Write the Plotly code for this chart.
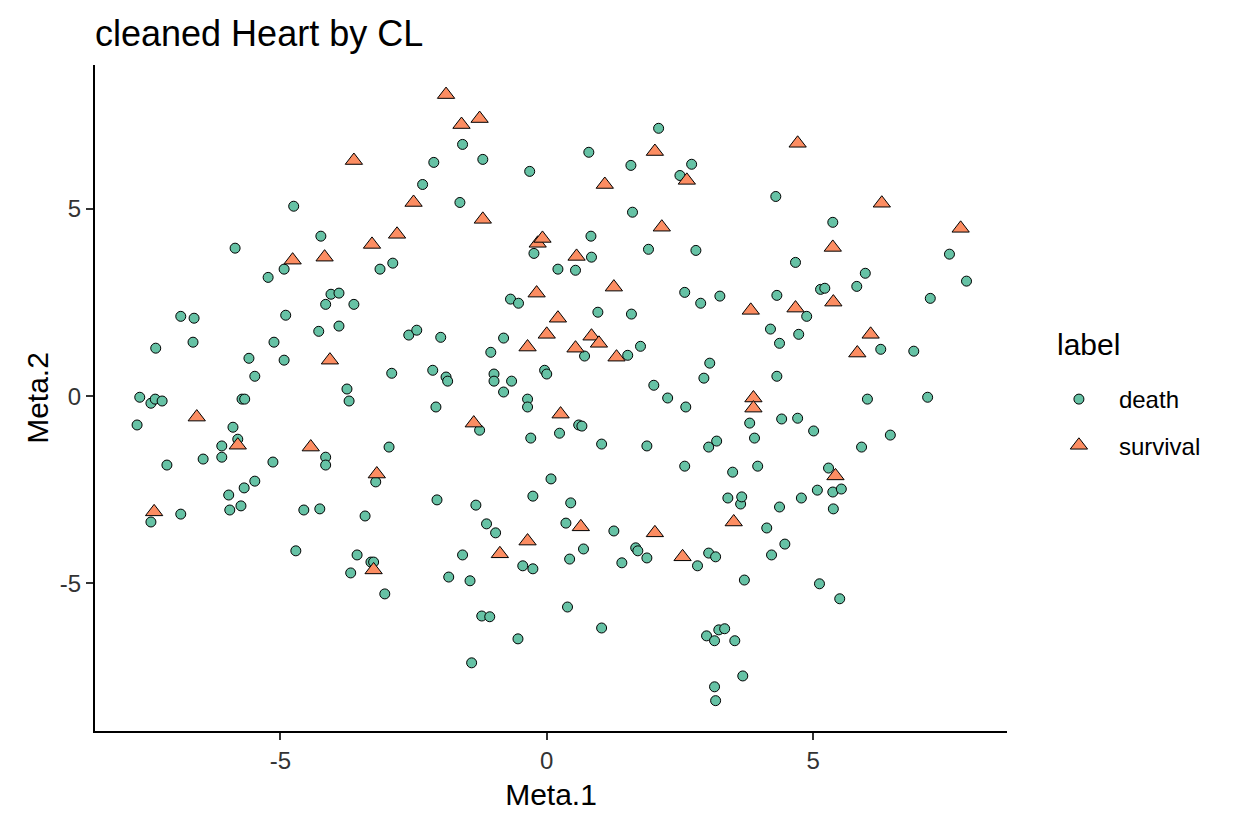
import plotly.graph_objects as go

# points (Meta.1, Meta.2)
death_x = [-7.69, -7.64, -7.43, -7.35, -7.22, -7.34, -6.87, -6.62, -6.64, -7.13,
           -7.43, -6.87, -6.45, -6.10, -6.10, -5.97, -5.95, -5.89, -5.80, -5.74,
           -5.72, -5.67, -5.68, -5.59, -5.48, -5.48, -5.85, -5.23, -5.12, -5.14,
           -4.93, -4.90, -4.93, -4.75, -4.71, -4.56, -4.28, -4.26, -4.24, -4.15,
           -4.15, -4.15, -4.05, -3.90, -3.90, -3.75, -3.71, -3.68, -3.62, -3.56,
           -3.41, -3.30, -3.25, -3.21, -3.13, -3.04, -2.96, -2.91, -2.89, -2.59,
           -2.44, -2.33, -2.12, -2.14, -2.08, -2.06, -1.99, -1.89, -1.86, -1.84,
           -1.63, -1.58, -1.58, -1.44, -1.41, -1.33, -1.26, -1.22, -1.20, -1.13,
           -1.07, -1.05, -0.96, -0.99, -0.99, -0.81, -0.81, -0.68, -0.66, -0.53,
           -0.54, -0.45, -0.26, -0.36, -0.36, -0.32, -0.24, -0.26, -0.30, -0.04,
           0.00, 0.08, 0.24, 0.21, 0.36, 0.39, 0.43, 0.45, 0.54, 0.60,
           0.66, 0.71, 0.69, 0.79, 0.83, 0.84, 0.96, 1.03, 1.03, 1.26,
           1.41, 1.52, 1.58, 1.61, 1.59, 1.67, 1.71, 1.76, 1.88, 1.91,
           1.88, 2.01, 2.10, 2.27, 2.50, 2.59, 2.61, 2.59, 2.72, 2.80,
           2.83, 2.89, 2.95, 3.00, 3.06, 3.04, 3.04, 3.15, 3.17, 3.19,
           3.15, 3.17, 3.25, 3.23, 3.34, 3.40, 3.49, 3.53, 3.64, 3.66,
           3.68, 3.71, 3.81, 3.90, 3.96, 4.13, 4.20, 4.22, 4.30, 4.32,
           4.32, 4.37, 4.37, 4.41, 4.47, 4.67, 4.71, 4.73, 4.78, 4.88,
           5.01, 5.08, 5.14, 5.22, 5.29, 5.37, 5.38, 5.37, 5.12, 5.50,
           5.53, 5.82, 5.91, 5.98, 6.02, 6.27, 6.45, 6.89, 7.15, 7.20,
           7.56, 7.88]
death_y = [-0.77, -0.03, -0.19, -0.08, -0.13, 1.28, 2.13, 2.08, 1.44, -1.84,
           -3.36, -3.15, -1.68, -1.33, -1.63, -2.64, -3.04, -0.83, -1.15, -2.93,
           -0.08, -0.08, -2.45, 1.01, 0.53, -2.27, 3.95, 3.17, 1.44, -1.76,
           0.96, 2.16, 3.39, 5.07, -4.13, -3.04, 1.73, -3.01, 4.27, -1.63,
           -1.84, 2.45, 2.72, 2.75, 1.87, 0.19, -0.13, -4.72, 2.45, -4.24,
           -3.20, -4.43, -4.43, -2.29, 3.39, -5.28, -1.36, 0.61, 3.55, 1.63,
           1.76, 5.65, 6.24, 0.69, -0.29, -2.77, 1.57, 0.51, 0.40, -4.83,
           5.17, 6.72, -4.24, -4.93, -7.12, -2.91, -0.91, -5.87, 6.32, -3.41,
           -5.89, 1.17, -3.65, 0.59, 0.40, 1.55, 0.11, 2.59, 0.40, 2.48,
           -6.48, -4.53, -4.61, -0.08, -0.29, 6.00, 3.81, -2.67, -1.12, 0.69,
           0.59, -2.21, -0.99, 3.39, -3.39, -5.63, -4.35, -2.85, 3.36, -0.77,
           -0.80, 1.07, -4.08, 6.51, 4.27, 3.71, 2.24, -1.28, -6.19, -3.60,
           -4.45, 1.09, 6.16, 4.91, 2.19, -4.05, -4.13, 1.33, -4.32, 3.92,
           -1.33, 0.29, 7.15, -0.05, 5.89, 2.77, -0.29, -1.87, 6.19, 3.89,
           -4.53, 2.48, 0.48, -6.40, 0.88, -1.36, -4.19, -6.53, -4.29, -1.20,
           -7.76, -8.13, 2.67, -6.24, -6.21, -2.72, -2.03, -6.53, -2.88, -2.69,
           -7.47, -4.91, -0.72, -1.12, -1.87, -3.52, 1.79, -4.24, 5.33, 2.69,
           0.53, 1.41, -2.96, -0.61, -3.95, 3.57, -0.59, 1.65, -2.72, 2.13,
           -0.93, -2.51, 2.85, 2.88, -1.92, 4.64, -3.01, -2.56, -5.01, -5.41,
           -2.48, 2.93, -1.36, 3.28, -0.08, 1.25, -1.04, 1.20, -0.03, 2.61,
           3.79, 3.07]

survival_x = [-4.77, -4.17, -1.89, -1.60, -1.26, -3.62, -2.50, -1.20, -2.81, -3.28,
              -0.17, -0.08, -0.19, 2.03, 2.63, 1.09, 2.16, 0.56, 1.26, 4.71,
              6.29, 7.77, 5.37, -6.57, -5.80, -4.43, -7.37, -4.07, 0.00, -0.36,
              -1.37, -3.19, 0.21, 3.83, 0.84, 0.98, 0.54, 1.31, 3.88, 3.88,
              0.26, 4.67, 5.38, 6.08, 5.83, 5.42, -3.25, -0.88, -0.36, 0.64,
              2.03, 2.55, 3.51]
survival_y = [3.63, 3.71, 8.05, 7.25, 7.41, 6.29, 5.17, 4.72, 4.32, 4.05,
              4.08, 4.21, 2.75, 6.53, 5.76, 5.65, 4.51, 3.73, 2.91, 6.75,
              5.15, 4.48, 3.97, -0.56, -1.31, -1.36, -3.09, 0.96, 1.65, 1.31,
              -0.72, -2.08, 2.08, 2.29, 1.60, 1.41, 1.28, 1.04, -0.05, -0.32,
              -0.48, 2.35, 2.51, 1.65, 1.15, -2.13, -4.64, -4.21, -3.87, -3.49,
              -3.65, -4.29, -3.36]

x_ticks = [-5, 0, 5]
y_ticks = [-5, 0, 5]
tick_labels = ["-5", "0", "5"]

font = "Liberation Sans, Arial, sans-serif"

fig = go.Figure()
fig.add_trace(go.Scatter(
    x=death_x, y=death_y, mode="markers", name="death", legendgroup="death",
    marker=dict(symbol="circle", size=10, color="#66C2A5",
                line=dict(color="black", width=1))))
fig.add_trace(go.Scatter(
    x=survival_x, y=survival_y, mode="markers", name="survival", legendgroup="survival",
    marker=dict(symbol="triangle-up", size=15, color="#FC8D62",
                line=dict(color="black", width=1))))

# legend title drawn as text so the gap above the keys matches
fig.add_annotation(text="label", x=1.0526, y=0.5796, xref="paper", yref="paper",
                   xanchor="left", yanchor="middle", showarrow=False,
                   font=dict(size=30, color="black"))

fig.update_layout(
    width=1233, height=829,
    margin=dict(l=87, r=234, t=57, b=106),
    paper_bgcolor="white", plot_bgcolor="white",
    font=dict(family=font, color="black"),
    title=dict(text="cleaned Heart by CL", font=dict(size=36, color="black"),
               x=0, xref="paper", xanchor="left",
               y=1 - 25 / 829, yref="container", yanchor="middle"),
    xaxis=dict(range=[-8.48, 8.64], tickvals=x_ticks, ticktext=tick_labels,
               showgrid=False, zeroline=False,
               showline=True, linecolor="black", linewidth=2,
               ticks="outside", ticklen=7, tickwidth=1.5, tickcolor="#333333",
               tickfont=dict(size=24, color="#333333"),
               title=dict(text="Meta.1", font=dict(size=30), standoff=11)),
    yaxis=dict(range=[-8.94, 8.84], tickvals=y_ticks, ticktext=tick_labels,
               showgrid=False, zeroline=False,
               showline=True, linecolor="black", linewidth=2,
               ticks="outside", ticklen=7, tickwidth=1.5, tickcolor="#333333",
               tickfont=dict(size=24, color="#333333"),
               title=dict(text="Meta.2", font=dict(size=30), standoff=2)),
    legend=dict(font=dict(size=24), x=1.035, xanchor="left",
                y=0.4632, yanchor="middle", tracegroupgap=12, itemwidth=70),
)

fig.write_html("out.html")
